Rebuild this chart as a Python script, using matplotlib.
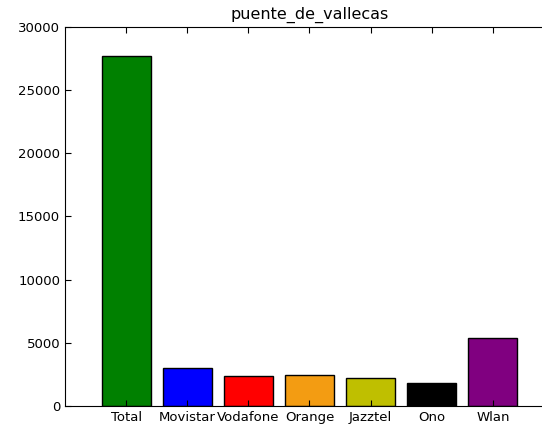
import matplotlib
matplotlib.use("Agg")
import matplotlib.pyplot as plt
import numpy as np

# values
labels = ['Total', 'Movistar', 'Vodafone', 'Orange', 'Jazztel', 'Ono', 'Wlan']
counts = [27730, 2980, 2350, 2410, 2170, 1770, 5360]
colors = ['green', 'blue', 'red', '#f39c12', '#bfbf00', 'black', 'purple']

fig = plt.figure(figsize=(5.42, 4.29), dpi=100)
# the right spine sits just outside the saved image in the reference
ax = fig.add_axes([0.12, 0.054, 0.902, 0.883])

x = np.arange(len(labels))
ax.bar(x, counts, width=0.8, color=colors, edgecolor='black', linewidth=1)

ax.set_xticks(x)
ax.set_xticklabels(labels)
ax.set_xlim(-1.0, 7.0)
ax.set_ylim(0, 30000)
ax.set_yticks(np.arange(0, 30001, 5000))
ax.tick_params(direction='in', top=True, right=True, length=4, labelsize=9.5)
ax.set_title('puente_de_vallecas', fontsize=11.5)

fig.savefig('out.png', dpi=100)
